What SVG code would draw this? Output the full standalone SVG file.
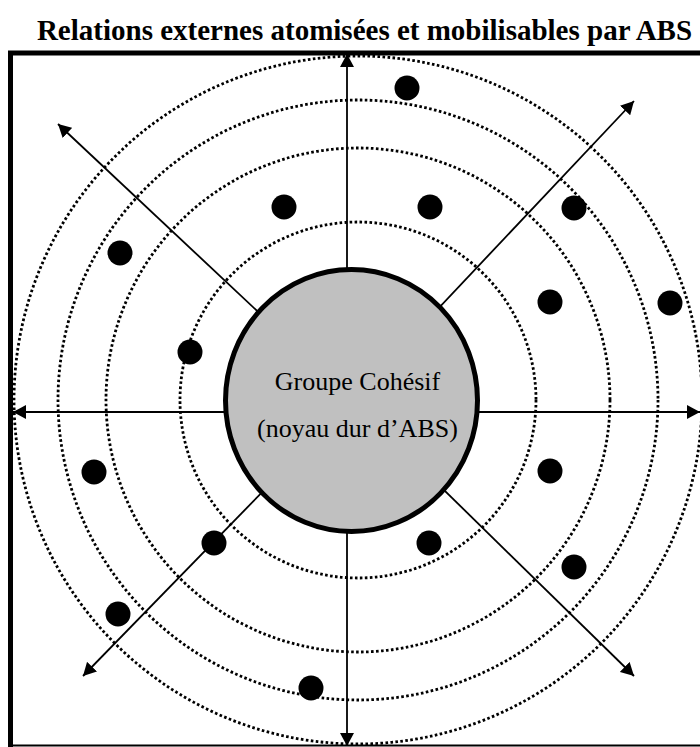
<svg xmlns="http://www.w3.org/2000/svg" width="700" height="747" viewBox="0 0 700 747">
<style>
.title{font-family:"Liberation Serif","Times New Roman",serif;font-weight:bold;font-size:29px;fill:#000}
.lbl{font-family:"Liberation Serif","Times New Roman",serif;font-size:26px;fill:#000}
.ring{fill:none;stroke:#000;stroke-width:2.8;stroke-dasharray:2.6 2.4}
.arr{stroke:#000;stroke-width:1.8;fill:none;marker-end:url(#ah)}
.dot{fill:#000}
</style>
<defs>
<marker id="ah" markerUnits="userSpaceOnUse" markerWidth="14" markerHeight="14" refX="13" refY="7" orient="auto">
<path d="M0,0 L13,7 L0,14 z" fill="#000"/>
</marker>
</defs>
<rect width="700" height="747" fill="#fff"/>
<text class="title" x="364.5" y="40" text-anchor="middle">Relations externes atomisées et mobilisables par ABS</text>
<g id="frame" stroke="#000" fill="none">
<line x1="8" y1="53" x2="700" y2="53" stroke-width="5"/>
<line x1="10.5" y1="51" x2="10.5" y2="747" stroke-width="5"/>
<line x1="8" y1="745.5" x2="700" y2="745.5" stroke-width="2"/>
</g>
<g id="rings">
<circle class="ring" cx="358" cy="400" r="178"/>
<circle class="ring" cx="358" cy="400" r="252"/>
<circle class="ring" cx="358" cy="400" r="300"/>
<circle class="ring" cx="358" cy="400" r="344"/>
</g>
<g id="connectors">
<line class="arr" x1="347" y1="400" x2="347" y2="54"/>
<line class="arr" x1="347" y1="400" x2="347" y2="746"/>
<line class="arr" x1="352" y1="412" x2="13" y2="412"/>
<line class="arr" x1="352" y1="412" x2="700" y2="412"/>
<line class="arr" x1="352" y1="400" x2="58" y2="124"/>
<line class="arr" x1="352" y1="400" x2="634" y2="101"/>
<line class="arr" x1="352" y1="400" x2="83" y2="676"/>
<line class="arr" x1="352" y1="400" x2="634" y2="676"/>
</g>
<g id="core">
<ellipse cx="351.5" cy="400.5" rx="126" ry="131" fill="#c0c0c0" stroke="#000" stroke-width="5"/>
<text class="lbl" x="357.5" y="390" text-anchor="middle">Groupe Cohésif</text>
<text class="lbl" x="357.5" y="437" text-anchor="middle">(noyau dur d’ABS)</text>
</g>
<g id="dots">
<circle class="dot" cx="407" cy="88" r="12.5"/>
<circle class="dot" cx="284" cy="207" r="12.5"/>
<circle class="dot" cx="430" cy="207" r="12.5"/>
<circle class="dot" cx="574" cy="208" r="12.5"/>
<circle class="dot" cx="120" cy="253" r="12.5"/>
<circle class="dot" cx="550" cy="302" r="12.5"/>
<circle class="dot" cx="670" cy="303" r="12.5"/>
<circle class="dot" cx="190" cy="352" r="12.5"/>
<circle class="dot" cx="94" cy="472" r="12.5"/>
<circle class="dot" cx="550" cy="471" r="12.5"/>
<circle class="dot" cx="214" cy="543" r="12.5"/>
<circle class="dot" cx="429" cy="543" r="12.5"/>
<circle class="dot" cx="574" cy="567" r="12.5"/>
<circle class="dot" cx="118" cy="614" r="12.5"/>
<circle class="dot" cx="311" cy="688" r="12.5"/>
</g>
</svg>
